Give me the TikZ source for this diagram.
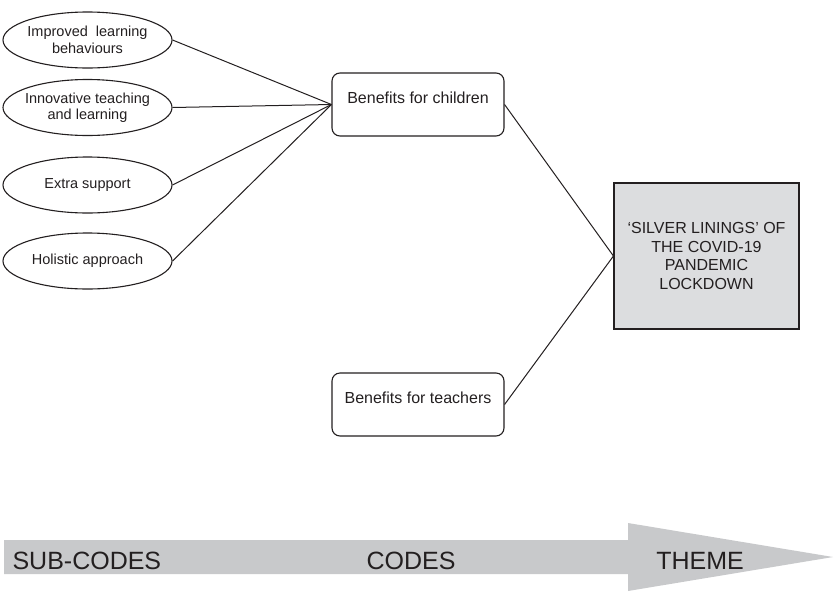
\documentclass[tikz,border=0pt]{standalone}
\usepackage{fontspec}
\setmainfont{Liberation Sans}
\usetikzlibrary{shapes.geometric}

\definecolor{inkgrey}{RGB}{35,31,32}
\definecolor{themegrey}{RGB}{220,221,223}
\definecolor{arrowgrey}{RGB}{200,201,203}

\begin{document}
\begin{tikzpicture}[x=1pt, y=-1pt, text=inkgrey,
  subcode/.style={ellipse, draw=inkgrey, line width=1.1pt, inner xsep=-4pt, inner ysep=0pt,
    minimum width=169pt, minimum height=56pt, align=center, font=\fontsize{14.5}{16.5}\selectfont},
  codebox/.style={draw=inkgrey, line width=1.1pt, rounded corners=8pt, minimum width=172pt,
    minimum height=63pt, text height=12pt, text depth=15pt, font=\fontsize{16}{18}\selectfont},
  themebox/.style={draw=inkgrey, line width=1.1pt, fill=themegrey, minimum width=185pt,
    minimum height=146pt, align=center, font=\fontsize{16}{18.5}\selectfont},
  link/.style={draw=inkgrey, line width=1pt},
  stage/.style={font=\fontsize{25}{28}\selectfont}]

% page frame, pixel units with y pointing down
\useasboundingbox (0,0) rectangle (834,592);

% ---- sub-codes (left column) ----
\node[subcode] (imp) at (87.5,40)  {Improved~ learning\\behaviours};
\node[subcode] (inn) at (87.5,107.5) {Innovative teaching\\and learning};
\node[subcode] (ext) at (87.5,185) {Extra support};
\node[subcode] (hol) at (87.5,261) {Holistic approach};

% ---- codes (middle column) ----
\node[codebox] (child) at (418,104.5) {Benefits for children};
\node[codebox] (teach) at (418,404.5) {Benefits for teachers};

% ---- theme ----
\node[themebox] (theme) at (706.5,256) {‘SILVER LININGS’ OF\\THE COVID-19\\PANDEMIC\\LOCKDOWN};

% connectors
\draw[link] (imp.east) -- (child.west);
\draw[link] (inn.east) -- (child.west);
\draw[link] (ext.east) -- (child.west);
\draw[link] (hol.east) -- (child.west);
\draw[link] (child.east) -- (theme.west);
\draw[link] (teach.east) -- (theme.west);

% big grey arrow along the bottom
\fill[arrowgrey] (4,540) -- (628,540) -- (628,523) -- (833,557)
  -- (628,591) -- (628,574) -- (4,574) -- cycle;

% stage labels on the arrow
\node[stage, anchor=west] (lsub) at (9,561) {SUB-CODES};
\node[stage] (lcode) at (411,561) {CODES};
\node[stage] (ltheme) at (700,561) {THEME};

\end{tikzpicture}
\end{document}
